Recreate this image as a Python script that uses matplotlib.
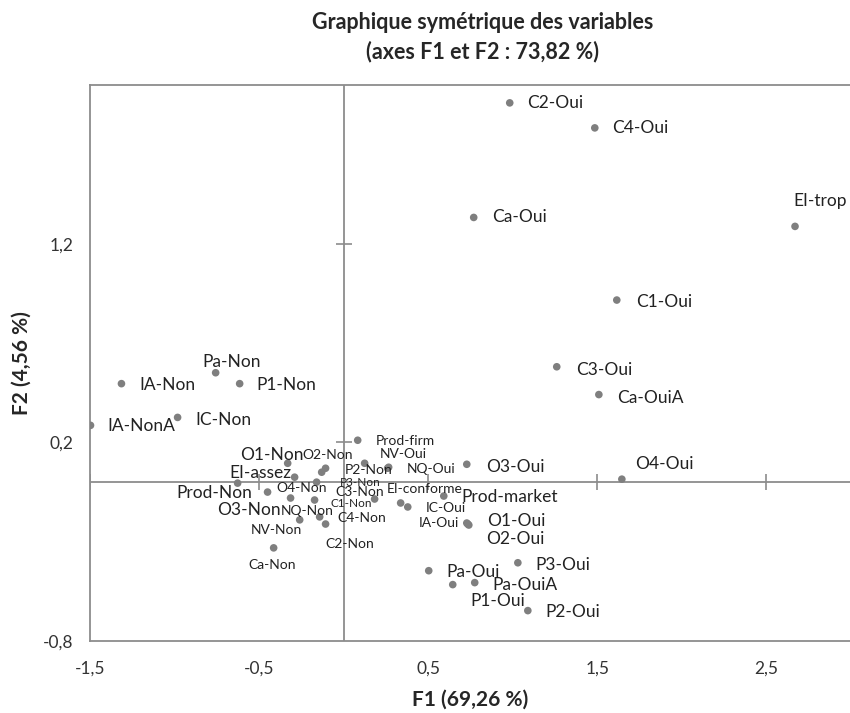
import matplotlib
matplotlib.use("Agg")
import matplotlib.pyplot as plt

plt.rcParams['font.family'] = ['Lato', 'DejaVu Sans']

# Coordonnées des modalités (F1, F2)
names = ['C2-Oui', 'C4-Oui', 'Ca-Oui', 'EI-trop', 'C1-Oui', 'C3-Oui', 'Ca-OuiA',
         'O3-Oui', 'O4-Oui', 'Prod-market', 'O1-Oui', 'O2-Oui', 'IA-Oui',
         'EI-conforme', 'IC-Oui', 'NV-Oui', 'NQ-Oui', 'Prod-firm', 'P3-Oui',
         'Pa-Oui', 'Pa-OuiA', 'P1-Oui', 'P2-Oui',
         'IA-NonA', 'IC-Non', 'IA-Non', 'Pa-Non', 'P1-Non', 'O1-Non', 'EI-assez',
         'Prod-Non', 'O3-Non', 'P3-Non', 'O2-Non', 'C3-Non', 'O4-Non', 'C2-Non',
         'NQ-Non', 'NV-Non', 'C4-Non', 'Ca-Non', 'P2-Non', 'C1-Non']
f1 = [0.982, 1.485, 0.769, 2.669, 1.615, 1.260, 1.509,
      0.728, 1.645, 0.592, 0.734, 0.740, 0.728,
      0.337, 0.379, 0.260, 0.266, 0.083, 1.030,
      0.503, 0.775, 0.645, 1.089,
      -1.497, -0.982, -1.314, -0.757, -0.615, -0.331, -0.290,
      -0.627, -0.450, -0.160, -0.130, -0.107, -0.314, -0.172,
      -0.142, -0.260, -0.107, -0.414, 0.124, 0.183]
f2 = [1.910, 1.784, 1.333, 1.288, 0.917, 0.581, 0.441,
      0.090, 0.015, -0.070, -0.211, -0.216, -0.206,
      -0.105, -0.125, 0.070, 0.075, 0.211, -0.406,
      -0.446, -0.506, -0.516, -0.647,
      0.286, 0.326, 0.496, 0.551, 0.496, 0.095, 0.025,
      -0.005, -0.050, 0.000, 0.050, 0.070, -0.080, -0.090,
      -0.175, -0.190, -0.211, -0.331, 0.095, -0.085]

xticks = [-1.5, -0.5, 0.5, 1.5, 2.5]
yticks = [-0.8, 0.2, 1.2]

# décalage des étiquettes (pixels) et taille de police
big, mid, small = 12.5, 10, 8.5
label_style = {
    'C2-Oui': (17, 0, big), 'C4-Oui': (17, 0, big), 'Ca-Oui': (18, 0, big),
    'EI-trop': (-2, 25, big), 'C1-Oui': (19, -2, big), 'C3-Oui': (19, -3, big),
    'Ca-OuiA': (18, -3, big), 'O3-Oui': (19, -3, big), 'O4-Oui': (13, 15, big),
    'Prod-market': (18, -1, big), 'O1-Oui': (19, 3, big), 'O2-Oui': (17, -14, big),
    'IA-Oui': (-48, 0, mid), 'EI-conforme': (-14, 14, mid), 'IC-Oui': (18, -1, mid),
    'NV-Oui': (-8, 14, mid), 'NQ-Oui': (18, -2, mid), 'Prod-firm': (18, -1, 10),
    'P3-Oui': (18, -2, big), 'Pa-Oui': (18, -1, big), 'Pa-OuiA': (18, -2, big),
    'P1-Oui': (18, -16, big), 'P2-Oui': (18, -1, big),
    'IA-NonA': (17, -1, big), 'IC-Non': (18, -3, big), 'IA-Non': (18, -1, big),
    'Pa-Non': (-13, 11, big), 'P1-Non': (17, -1, big), 'O1-Non': (-48, 8, big),
    'EI-assez': (-65, 4, big), 'Prod-Non': (-61, -10, big), 'O3-Non': (-50, -18, big),
    'P3-Non': (23, 0, small), 'O2-Non': (-19, 17, mid), 'C3-Non': (10, -24, mid),
    'O4-Non': (-14, 10, mid), 'C2-Non': (11, -44, mid), 'NQ-Non': (-39, 6, mid),
    'NV-Non': (-49, -10, mid), 'C4-Non': (12, 6, mid), 'Ca-Non': (-25, -17, mid),
    'P2-Non': (-20, -7, mid), 'C1-Non': (-44, -4, small),
}

fig = plt.figure(figsize=(8.5, 7.13), dpi=100)
ax = fig.add_axes([90 / 850, 1 - 641 / 713, 761 / 850, 556 / 713])

grey = '#8c8c8c'
ax.axhline(0, color=grey, lw=1.3, zorder=1)
ax.axvline(0, color=grey, lw=1.3, zorder=1)
# petites graduations sur les axes centraux
ax.plot(xticks, [0] * len(xticks), ls='none', marker='|', ms=12, mew=1.2, color=grey, zorder=1)
ax.plot([0] * len(yticks[1:]), yticks[1:], ls='none', marker='_', ms=12, mew=1.2, color=grey, zorder=1)

ax.scatter(f1, f2, s=30, color='#7f7f7f', edgecolors='none', zorder=3)

for n, x, y in zip(names, f1, f2):
    dx, dy, fs = label_style[n]
    ax.annotate(n, (x, y), xytext=(dx, dy), textcoords='offset pixels',
                ha='left', va='center', fontsize=fs, color='#222222', zorder=4)

ax.set_xlim(-1.5, 3.0)
ax.set_ylim(-0.8, 2.0)
ax.set_xticks(xticks)
ax.set_yticks(yticks)
ax.set_xticklabels([str(v).replace('.', ',') for v in xticks])
ax.set_yticklabels([str(v).replace('.', ',') for v in yticks])
ax.tick_params(length=0, labelsize=12.5, colors='#333333', pad=14)
ax.tick_params(axis='y', pad=12)
for s in ['left', 'bottom', 'top']:
    ax.spines[s].set_color(grey)
    ax.spines[s].set_linewidth(1.3)
ax.spines['right'].set_visible(False)

fig.text(0.568, 0.968, 'Graphique symétrique des variables', ha='center', va='center',
         fontsize=15.5, fontweight='bold', color='#262626')
fig.text(0.568, 0.928, '(axes F1 et F2 : 73,82 %)', ha='center', va='center',
         fontsize=15.5, fontweight='bold', color='#262626')
fig.text(0.553, 1 - 700 / 713, 'F1 (69,26 %)', ha='center', va='center',
         fontsize=15, fontweight='bold', color='#262626')
fig.text(0.026, 1 - 363 / 713, 'F2 (4,56 %)', ha='center', va='center', rotation=90,
         fontsize=15, fontweight='bold', color='#262626')

fig.savefig('out.png', dpi=100)
